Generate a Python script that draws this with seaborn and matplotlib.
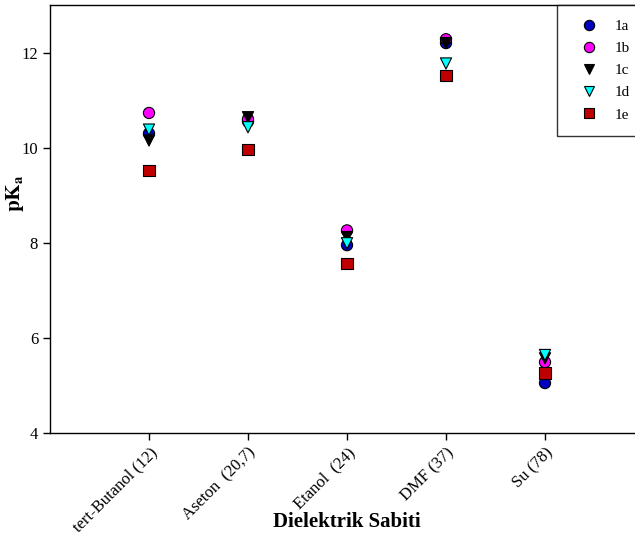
import matplotlib
matplotlib.use("Agg")
import matplotlib.pyplot as plt
import seaborn as sns
import pandas as pd

solvents = ["tert-Butanol (12)", "Aseton  (20,7)", "Etanol  (24)", "DMF (37)", "Su (78)"]
compounds = ["1a", "1b", "1c", "1d", "1e"]
pka_1a = [10.30, 10.55, 7.95, 12.20, 5.05]
pka_1b = [10.73, 10.60, 8.26, 12.28, 5.49]
pka_1c = [10.15, 10.64, 8.12, 12.20, 5.57]
pka_1d = [10.38, 10.43, 7.99, 11.77, 5.64]
pka_1e = [9.52, 9.96, 7.57, 11.51, 5.26]
yticks = [4, 6, 8, 10, 12]

series = {"1a": pka_1a, "1b": pka_1b, "1c": pka_1c, "1d": pka_1d, "1e": pka_1e}
rows = []
for c in compounds:
    for s, v in zip(solvents, series[c]):
        rows.append({"solvent": s, "pKa": v, "compound": c})
df = pd.DataFrame(rows)

sns.set_style("white")
plt.rcParams["font.family"] = ["Liberation Serif", "DejaVu Serif"]
plt.rcParams["mathtext.fontset"] = "stix"
plt.rcParams["text.color"] = "black"
plt.rcParams["axes.labelcolor"] = "black"
plt.rcParams["xtick.color"] = "black"
plt.rcParams["ytick.color"] = "black"

fig = plt.figure(figsize=(6.35, 5.4), dpi=100)
ax = fig.add_axes([50/635, 1 - 433/540, 594/635, 428/540])

palette = {"1a": "#0000c0", "1b": "#ff00ff", "1c": "#000000", "1d": "#00ffff", "1e": "#c00000"}
markers = {"1a": "o", "1b": "o", "1c": "v", "1d": "v", "1e": "s"}
sns.scatterplot(data=df, x="solvent", y="pKa", hue="compound", style="compound",
                palette=palette, markers=markers, s=65, edgecolor="black",
                linewidth=0.8, ax=ax, zorder=3, legend=True)

ax.set_xlim(-1, 5)
ax.set_ylim(4, 13)
ax.set_yticks(yticks)
ax.set_xticks(range(len(solvents)))
ax.set_xticklabels(solvents, rotation=45, ha="right", rotation_mode="anchor", fontsize=12)
ax.tick_params(axis="y", labelsize=12)
ax.tick_params(direction="out", length=5, width=1, colors="black", labelcolor="black",
               bottom=True, left=True)
for sp in ax.spines.values():
    sp.set_color("black")
    sp.set_linewidth(1)
ax.set_xlabel("Dielektrik Sabiti", fontsize=15, fontweight="bold", color="black")
ax.xaxis.set_label_coords(0.5, -0.185)
ax.set_ylabel(r"$\mathbf{pK_a}$", fontsize=15, color="black")
ax.yaxis.set_label_coords(-0.04, 0.56)
ax.grid(False)

leg = ax.legend(loc="upper left", bbox_to_anchor=(557/635, 1 - 5/540),
                bbox_transform=fig.transFigure, frameon=True, fontsize=11,
                handletextpad=0.55, borderpad=0.95, labelspacing=0.55, handlelength=2.3,
                markerscale=0.92, fancybox=False, borderaxespad=0)
leg.get_frame().set_edgecolor("black")
leg.get_frame().set_linewidth(1)
leg.set_title(None)
for t in leg.get_texts():
    t.set_color("black")

fig.savefig("out.png", dpi=100)
